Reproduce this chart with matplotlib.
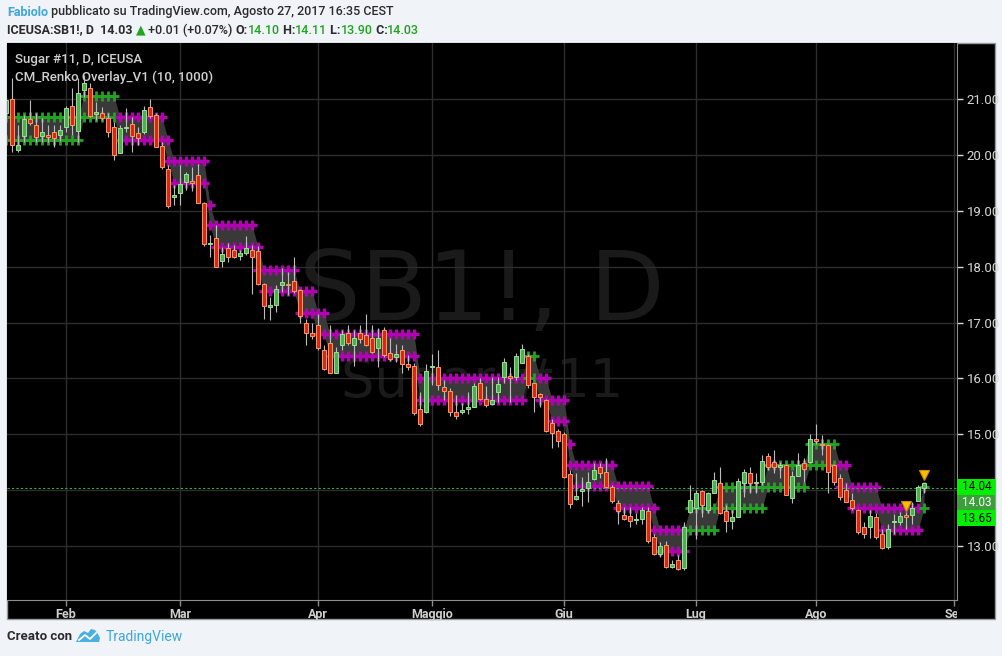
import numpy as np
import matplotlib.pyplot as plt
from matplotlib.patches import Rectangle, Polygon
from matplotlib.transforms import blended_transform_factory

# ---- data (daily bars, index 0 = 19 Jan 2017) ----
bar_idx = list(range(-1, 153))
opens = [20.75, 21.00, 20.09, 20.35, 20.64, 20.54, 20.35, 20.37, 20.41, 20.36,
         20.50, 20.88, 20.43, 21.17, 21.20, 20.74, 20.75, 20.66, 20.50, 20.04,
         20.48, 20.56, 20.39, 20.41, 20.86, 20.72, 20.16, 19.76, 19.25, 19.32,
         19.52, 19.53, 19.64, 19.15, 18.40, 18.51, 18.10, 18.33, 18.30, 18.20,
         18.25, 18.31, 18.28, 17.70, 17.28, 17.32, 17.68, 17.70, 17.74, 17.59,
         17.00, 16.82, 16.95, 16.51, 16.64, 16.10, 16.59, 16.81, 16.60, 16.82,
         16.77, 16.72, 16.54, 16.86, 16.45, 16.39, 16.51, 16.26, 16.22, 15.46,
         15.40, 16.20, 16.20, 15.84, 15.78, 15.40, 15.39, 15.46, 15.49, 15.91,
         15.64, 15.55, 15.76, 16.02, 16.03, 16.02, 16.28, 16.40, 15.91, 15.72,
         15.62, 15.21, 15.06, 15.01, 14.28, 13.84, 13.98, 14.03, 14.20, 14.41,
         14.33, 14.05, 13.76, 13.56, 13.53, 13.46, 13.49, 13.63, 13.15, 12.86,
         13.02, 12.62, 12.74, 12.61, 13.61, 13.67, 13.98, 13.65, 13.95, 14.12,
         13.62, 13.45, 13.52, 14.13, 14.30, 14.12, 14.14, 14.61, 14.51, 14.41,
         14.44, 13.85, 14.26, 14.49, 14.51, 14.92, 14.82, 14.81, 14.44, 14.21,
         14.00, 13.82, 13.64, 13.33, 13.33, 13.51, 13.22, 12.98, 13.42, 13.43,
         13.54, 13.56, 13.81, 14.03]
highs = [21.05, 21.38, 20.54, 20.72, 20.99, 20.75, 20.66, 20.54, 20.54, 20.54,
         20.88, 21.20, 21.38, 21.44, 21.29, 20.96, 20.87, 20.75, 20.60, 20.54,
         20.84, 20.69, 20.51, 20.88, 21.00, 20.76, 20.24, 19.82, 19.46, 19.82,
         19.70, 19.79, 19.85, 19.17, 18.57, 18.75, 18.36, 18.42, 18.39, 18.30,
         18.55, 18.39, 18.37, 17.71, 17.46, 17.67, 17.97, 17.91, 18.18, 17.61,
         17.07, 17.00, 17.16, 16.60, 16.95, 16.57, 16.87, 16.95, 16.87, 16.95,
         17.16, 16.95, 16.90, 16.92, 16.72, 16.61, 16.60, 16.42, 16.27, 15.76,
         16.26, 16.44, 16.51, 15.97, 15.82, 15.70, 15.56, 15.75, 15.91, 16.00,
         15.86, 16.03, 16.03, 16.36, 16.21, 16.45, 16.62, 16.43, 15.92, 15.74,
         15.64, 15.28, 15.10, 15.04, 14.36, 14.30, 14.24, 14.33, 14.48, 14.48,
         14.57, 14.09, 13.83, 13.70, 13.70, 13.58, 13.70, 13.70, 13.22, 13.07,
         13.09, 12.74, 12.83, 13.42, 14.09, 14.00, 14.00, 13.97, 14.33, 14.42,
         13.73, 13.64, 14.21, 14.37, 14.42, 14.30, 14.63, 14.66, 14.72, 14.51,
         14.46, 14.35, 14.67, 14.57, 15.01, 15.18, 14.98, 14.83, 14.46, 14.29,
         14.13, 13.94, 13.66, 13.43, 13.64, 13.58, 13.31, 13.39, 13.57, 13.61,
         13.61, 13.79, 14.09, 14.13]
lows = [20.70, 20.06, 20.06, 20.24, 20.54, 20.24, 20.24, 20.24, 20.15, 20.26,
        20.42, 20.36, 20.24, 21.05, 20.69, 20.63, 20.63, 20.33, 19.91, 20.04,
        20.42, 20.06, 20.18, 20.38, 20.66, 20.14, 19.76, 19.06, 19.10, 19.10,
        19.38, 19.35, 19.14, 18.38, 18.18, 17.99, 17.99, 18.08, 18.15, 18.13,
        18.21, 17.52, 17.67, 17.07, 17.04, 17.19, 17.55, 17.49, 17.53, 17.00,
        16.60, 16.70, 16.51, 16.15, 16.09, 16.09, 16.51, 16.60, 16.23, 16.64,
        16.58, 16.45, 16.20, 16.38, 16.32, 16.30, 16.09, 16.15, 15.34, 15.15,
        15.38, 15.88, 15.79, 15.61, 15.32, 15.28, 15.36, 15.37, 15.48, 15.61,
        15.49, 15.52, 15.58, 15.91, 15.58, 15.97, 16.27, 15.82, 15.40, 15.48,
        15.04, 14.76, 14.78, 14.22, 13.67, 13.82, 13.72, 13.79, 14.18, 14.21,
        14.03, 13.76, 13.40, 13.47, 13.33, 13.39, 13.39, 13.06, 12.83, 12.80,
        12.61, 12.60, 12.57, 12.57, 13.58, 13.13, 13.52, 13.58, 13.94, 13.57,
        13.25, 13.31, 13.51, 13.87, 13.95, 13.95, 14.09, 14.36, 14.31, 14.21,
        13.91, 13.76, 14.25, 14.15, 14.48, 14.83, 14.63, 13.95, 14.09, 13.83,
        13.78, 13.64, 13.22, 13.14, 13.14, 13.13, 12.95, 12.95, 13.22, 13.38,
        13.31, 13.40, 13.80, 13.94]
closes = [20.99, 20.18, 20.18, 20.64, 20.58, 20.33, 20.41, 20.33, 20.31, 20.45,
          20.85, 20.54, 21.11, 21.29, 20.71, 20.77, 20.66, 20.42, 20.00, 20.48,
          20.50, 20.35, 20.30, 20.81, 20.71, 20.15, 19.79, 19.09, 19.27, 19.48,
          19.66, 19.51, 19.15, 18.40, 18.42, 18.00, 18.23, 18.18, 18.17, 18.25,
          18.33, 18.18, 17.70, 17.30, 17.30, 17.61, 17.72, 17.67, 17.57, 17.12,
          16.82, 16.76, 16.55, 16.17, 16.10, 16.47, 16.79, 16.64, 16.73, 16.71,
          16.60, 16.48, 16.72, 16.42, 16.34, 16.44, 16.25, 16.20, 15.38, 15.19,
          16.14, 16.22, 15.89, 15.78, 15.39, 15.33, 15.43, 15.48, 15.86, 15.63,
          15.53, 15.62, 15.90, 16.30, 16.01, 16.40, 16.52, 15.89, 15.67, 15.67,
          15.06, 15.03, 14.88, 14.24, 13.75, 13.90, 14.00, 14.15, 14.36, 14.30,
          14.05, 13.81, 13.63, 13.49, 13.45, 13.48, 13.64, 13.08, 12.86, 13.00,
          12.62, 12.67, 12.58, 13.33, 13.83, 13.94, 13.73, 13.94, 14.18, 13.58,
          13.45, 13.51, 14.16, 14.32, 14.12, 14.15, 14.52, 14.42, 14.42, 14.43,
          13.92, 14.25, 14.44, 14.38, 14.92, 14.88, 14.80, 14.33, 14.15, 13.88,
          13.79, 13.67, 13.25, 13.22, 13.53, 13.15, 12.97, 13.31, 13.44, 13.54,
          13.52, 13.68, 14.05, 14.12]

# renko overlay levels: first bar, last bar, upper, lower, direction
renko_start = [-1, 12, 18, 26, 27, 33, 34, 41, 42, 48, 51, 53, 68, 86, 88, 90,
               93, 94, 101, 107, 108, 113, 118, 126, 133, 138, 140, 145, 152]
renko_end = [11, 17, 25, 26, 32, 33, 40, 41, 47, 50, 52, 67, 85, 87, 89, 92,
             93, 100, 106, 107, 112, 117, 125, 132, 137, 139, 144, 151, 152]
renko_upper = [20.68, 21.06, 20.68, 20.28, 19.90, 19.11, 18.75, 18.36, 17.95,
               17.56, 17.18, 16.79, 16.01, 16.40, 16.01, 15.62, 14.83, 14.45,
               14.07, 13.67, 13.28, 13.67, 14.06, 14.45, 14.83, 14.45, 14.06,
               13.67, 14.06]
renko_lower = [20.28, 20.68, 20.28, 19.90, 19.51, 18.75, 18.36, 17.95, 17.56,
               17.18, 16.79, 16.40, 15.62, 16.01, 15.62, 15.24, 14.45, 14.07,
               13.67, 13.28, 12.91, 13.28, 13.67, 14.06, 14.45, 14.06, 13.67,
               13.28, 13.67]
renko_up = [1, 1, 0, 0, 0, 0, 0, 0, 0, 0, 0, 0, 0, 1, 0, 0, 0, 0, 0, 0, 0, 1,
            1, 1, 1, 0, 0, 0, 1]

signal_idx = [149, 152]
signal_price = [13.71, 14.27]

last_line = 14.04
price_ticks = [13, 14, 15, 16, 17, 18, 19, 20, 21]
hidden_tick = 14  # its label sits under the price boxes
month_idx = [9, 28, 51, 70, 92, 114, 134, 157]
month_labels = ['Feb', 'Mar', 'Apr', 'Maggio', 'Giu', 'Lug', 'Ago', 'Set']

# ---- figure ----
W, H = 1002, 656
fig = plt.figure(figsize=(W / 100, H / 100), dpi=100)
fig.patch.set_facecolor('#f0f3f7')
BASE = ['Roboto', 'DejaVu Sans']


def fx(px):
    return px / W


def fy(py):
    return 1 - py / H


fig.patches.append(Rectangle((fx(7), fy(619)), fx(995) - fx(7), fy(43) - fy(619),
                             transform=fig.transFigure, facecolor='black',
                             edgecolor='#9a9a9a', lw=1, zorder=-10))

ax = fig.add_axes([fx(7), fy(600), fx(957) - fx(7), fy(43) - fy(600)])
ax.set_facecolor('black')
ax.set_xlim(-0.83, 157.5)
ax.set_ylim(12.03, 22.01)

# watermark
ax.text(0.5, 0.503, 'SB1!, D', transform=ax.transAxes, ha='center', va='baseline',
        fontsize=70, color='#1a1a1a', family='DejaVu Sans', zorder=0)
ax.text(0.5, 0.365, 'Sugar #11', transform=ax.transAxes, ha='center', va='baseline',
        fontsize=38, color='#1a1a1a', family='DejaVu Sans', zorder=0)

ax.grid(True, color='#2d2d2d', lw=1)
ax.set_axisbelow(True)

# renko fill + crosses
x = np.array(bar_idx)
up_line = np.full(len(x), np.nan)
lo_line = np.full(len(x), np.nan)
for s, e, u, l in zip(renko_start, renko_end, renko_upper, renko_lower):
    m = (x >= s) & (x <= e)
    up_line[m] = u
    lo_line[m] = l
ax.fill_between(x, up_line, lo_line, color='#393939', lw=0, zorder=1)
for s, e, u, l, d in zip(renko_start, renko_end, renko_upper, renko_lower, renko_up):
    xs = np.arange(s, e + 1)
    col = '#1fa51f' if d else '#b400b4'
    for lev in (u, l):
        ax.plot(xs, np.full(len(xs), lev), ls='none', marker='+', ms=6.8,
                mew=2.0 if d else 2.4, color=col, zorder=2)

# candles
o = np.array(opens)
c = np.array(closes)
g = c >= o
ax.vlines(x, lows, highs, color='#bdbdbd', lw=0.8, zorder=3)
bottom = np.minimum(o, c)
height = np.maximum(np.abs(c - o), 0.03)
ax.bar(x[g], height[g], bottom=bottom[g], width=0.66, color='#4caf50',
       edgecolor='#9be09b', lw=0.7, zorder=4)
ax.bar(x[~g], height[~g], bottom=bottom[~g], width=0.66, color='#e0221a',
       edgecolor='#f49a6a', lw=0.7, zorder=4)

ax.axhline(last_line, color='#3faa3f', lw=0.8, ls=(0, (2, 2)), zorder=2)
ax.plot(signal_idx, signal_price, ls='none', marker='v', ms=7, color='#f5c000',
        mec='#d68a00', mew=0.8, zorder=5)

# axes styling
for side in ('top', 'left'):
    ax.spines[side].set_visible(False)
for side in ('bottom', 'right'):
    ax.spines[side].set_color('#8c8c8c')
ax.yaxis.tick_right()
ax.set_yticks(price_ticks)
ax.set_yticklabels(['' if p == hidden_tick else '%.2f' % p for p in price_ticks])
ax.tick_params(axis='y', colors='#d8d8d8', length=4, width=1, pad=3, labelsize=9.5)
ax.set_xticks(month_idx)
ax.set_xticklabels(month_labels, fontweight='bold')
ax.tick_params(axis='x', colors='#d0d0d0', length=4, width=1, pad=1.5, labelsize=9)
ax.tick_params(axis='x', color='#8c8c8c')
for t in ax.get_xticklabels() + ax.get_yticklabels():
    t.set_family(BASE)
clip = Rectangle((fx(7), fy(619)), fx(957) - fx(7), fy(600) - fy(619),
                 transform=fig.transFigure, visible=False)
fig.patches.append(clip)
ax.get_xticklabels()[-1].set_clip_path(clip)

# price labels on the right scale
tr = blended_transform_factory(fig.transFigure, fig.transFigure)
for y0, y1, txt, bg, fg in [(479, 495, '14.04', '#00f000', 'black'),
                            (495, 510, '14.03', '#3c9f3c', 'white'),
                            (510, 526, '13.65', '#00f000', 'black')]:
    fig.patches.append(Rectangle((fx(957), fy(y1)), fx(995) - fx(957), fy(y0) - fy(y1),
                                 transform=tr, facecolor=bg, lw=0, zorder=3))
    fig.text(fx(962), fy((y0 + y1) / 2), txt, color=fg, fontsize=8.5, va='center',
             ha='left', family=BASE, zorder=4)

# legend inside chart
fig.text(fx(15), fy(60), 'Sugar #11, D, ICEUSA', color='#cfcfcf', fontsize=9.5,
         va='center', family=BASE, fontweight='medium')
fig.text(fx(15), fy(77), 'CM_Renko Overlay_V1 (10, 1000)', color='#cfcfcf',
         fontsize=9.5, va='center', family=BASE, fontweight='medium')

renderer = fig.canvas.get_renderer()


def chain(x_px, y_px, pieces, **kw):
    xx = fx(x_px)
    for s, col, wt in pieces:
        t = fig.text(xx, fy(y_px), s, color=col, va='center', ha='left',
                     family=BASE, fontweight=wt, **kw)
        xx = fx(t.get_window_extent(renderer=renderer).x1)


DARK = '#2b2b2b'
GRN = '#1fa51f'
chain(7, 12, [('Fabiolo', '#3ea6de', 'bold'),
              (' pubblicato su TradingView.com, Agosto 27, 2017 16:35 CEST', DARK, 'medium')],
      fontsize=9)
chain(7, 30, [('ICEUSA:SB1!, D  14.03 ', DARK, 'bold'), ('▲', GRN, 'bold'),
              (' +0.01 (+0.07%) ', DARK, 'medium'), ('O:', DARK, 'bold'),
              ('14.10', GRN, 'medium'), (' H:', DARK, 'bold'), ('14.11', GRN, 'medium'),
              (' L:', DARK, 'bold'), ('13.90', GRN, 'medium'), (' C:', DARK, 'bold'),
              ('14.03', GRN, 'medium')], fontsize=9)

# footer
fig.text(fx(7), fy(637), 'Creato con', color=DARK, fontsize=9.5, va='center',
         family=BASE, fontweight='bold')
logo = [(76, 642), (80, 634), (84, 631), (88, 633), (91, 629), (95, 630),
        (98, 634), (100, 638), (99, 642)]
fig.patches.append(Polygon([(fx(a), fy(b)) for a, b in logo], closed=True,
                           transform=fig.transFigure, facecolor='#4ab0e2', lw=0))
fig.lines.append(plt.Line2D([fx(79), fx(85), fx(90), fx(96)],
                            [fy(640), fy(635), fy(639), fy(633)],
                            transform=fig.transFigure, color='white', lw=1.3))
fig.text(fx(106), fy(637), 'TradingView', color='#3ea6de', fontsize=10,
         va='center', family=BASE)

fig.savefig('out.png', dpi=100, facecolor=fig.get_facecolor())
